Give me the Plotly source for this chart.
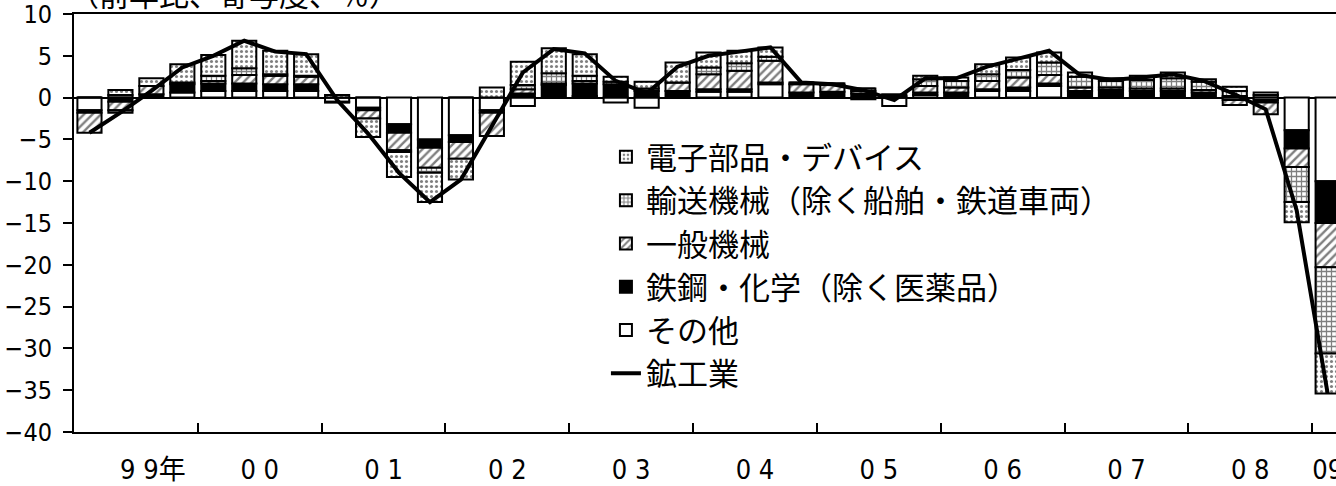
import plotly.graph_objects as go

# quarters 1999Q1 .. 2009Q1 (41 points), contributions in % points
quarters = [f"{y}Q{q}" for y in range(1999, 2010) for q in range(1, 5)][:41]

sonota = [-1.5, 0.3, 0.0, 0.6, 0.8, 0.8, 0.8, 0.8, -0.5, -1.2, -3.2, -5.0, -4.5, -1.5, -1.0, 0.0,
          0.2, -0.6, -1.2, 0.0, 0.7, 0.7, 1.6, 0.0, 0.0, -0.2, -1.0, 0.3, 0.0, 0.8, 0.8, 1.4,
          0.0, 0.0, 0.0, 0.0, 0.0, -0.3, -0.3, -3.9, -10.0]
tekko = [-0.3, -0.5, 0.4, 1.0, 0.9, 0.9, 0.8, 0.8, -0.1, -0.3, -1.0, -1.0, -0.8, -0.3, 0.5, 1.5,
         1.5, 1.6, 0.8, 0.8, 0.3, 0.3, 0.2, 0.6, 0.7, 0.5, 0.0, 0.3, 0.6, 0.2, 0.4, 0.3,
         0.8, 0.9, 0.8, 0.8, 0.6, 0.2, -0.3, -2.2, -5.0]
ippan = [-2.4, -1.0, 1.0, 0.2, 0.3, 1.0, 1.0, 0.9, 0.0, -1.0, -2.1, -2.4, -2.0, -2.8, 0.5, 0.2,
         0.3, 0.0, 0.3, 1.0, 1.8, 2.2, 2.6, 1.0, 0.8, 0.3, 0.0, 0.8, 0.6, 1.0, 1.2, 1.0,
         0.4, 0.3, 0.3, 0.3, 0.3, -0.6, -1.4, -2.2, -5.3]
yuso = [0.0, -0.3, 0.0, 0.0, 0.6, 0.8, 0.2, 0.1, 0.0, 0.0, -0.2, -0.6, 0.0, 0.0, 0.5, 1.2,
        0.6, 0.3, 0.0, 0.0, 0.8, 0.9, 0.5, 0.2, 0.2, 0.3, 0.2, 0.8, 0.8, 0.8, 0.9, 1.5,
        1.3, 0.8, 1.0, 1.2, 1.0, 0.6, 0.3, -4.2, -10.3]
denshi = [0.0, 0.6, 0.9, 2.2, 2.5, 3.3, 2.8, 2.6, 0.3, -2.2, -3.0, -3.5, -2.5, 1.2, 2.8, 3.0,
          2.6, 0.6, 0.8, 2.4, 1.8, 1.5, 1.1, 0.0, 0.0, 0.0, 0.2, 0.4, 0.4, 1.2, 1.5, 1.2,
          0.5, 0.3, 0.5, 0.7, 0.3, 0.5, 0.3, -2.4, -4.8]
kokogyo = [-4.2, -1.8, 0.8, 3.6, 5.0, 6.8, 5.5, 5.2, -0.3, -4.3, -9.0, -12.5, -9.8, -3.4, 3.0, 5.8,
           5.3, 2.0, 0.5, 3.7, 5.0, 5.5, 6.0, 1.8, 1.6, 0.9, -0.3, 2.3, 2.3, 3.7, 4.7, 5.6,
           2.7, 2.1, 2.4, 2.8, 2.0, 0.4, -1.4, -13.5, -35.4]

year_labels = ["9 9年", "0 0", "0 1", "0 2", "0 3", "0 4", "0 5", "0 6", "0 7", "0 8", "09"]

x = list(range(len(quarters)))
label_x = [4 * k + 1.5 for k in range(10)] + [40]
label_x[0] += 0.55  # "年" widens the first label
year_edges = [4 * k + 3.5 for k in range(10)]

JP = "Noto Sans CJK JP"
NUM = "Liberation Sans Narrow, DejaVu Sans Condensed, Noto Sans CJK JP"

bar_specs = [
    ("その他", sonota, dict(color="white"), 5),
    ("鉄鋼・化学（除く医薬品）", tekko, dict(color="black"), 4),
    ("一般機械", ippan, dict(color="white", pattern=dict(shape="/", fgcolor="black", bgcolor="white", size=6, solidity=0.4)), 3),
    ("輸送機械（除く船舶・鉄道車両）", yuso, dict(color="white", pattern=dict(shape="+", fgcolor="black", bgcolor="white", size=5, solidity=0.45)), 2),
    ("電子部品・デバイス", denshi, dict(color="white", pattern=dict(shape=".", fgcolor="black", bgcolor="white", size=5, solidity=0.3)), 1),
]

fig = go.Figure()
for name, vals, marker, rank in bar_specs:
    fig.add_trace(go.Bar(
        x=x, y=vals, name=name, width=0.78,
        marker=dict(**marker, line=dict(color="black", width=2)),
        legendgroup=name, legendrank=rank,
        customdata=quarters, hovertemplate="%{customdata}: %{y}<extra>" + name + "</extra>",
    ))

fig.add_trace(go.Scatter(
    x=x, y=kokogyo, name="鉱工業", mode="lines",
    line=dict(color="black", width=4),
    legendgroup="鉱工業", legendrank=6,
    customdata=quarters, hovertemplate="%{customdata}: %{y}<extra>鉱工業</extra>",
))

fig.update_layout(
    barmode="relative",
    width=1336, height=486,
    margin=dict(l=74, r=0, t=14, b=54, autoexpand=False),
    paper_bgcolor="white", plot_bgcolor="white",
    font=dict(family=JP, color="black"),
    legend=dict(
        x=0.4215, y=0.722, xanchor="left", yanchor="top",
        font=dict(family=JP, size=31, color="black"),
        bgcolor="rgba(0,0,0,0)", tracegroupgap=0,
    ),
    annotations=[dict(
        text="（前年比、寄与度、％）", xref="paper", yref="paper",
        x=-0.0055, y=1, xanchor="left", yanchor="bottom", yshift=-3, showarrow=False,
        font=dict(family=JP, size=30, color="black"),
    )],
)

fig.update_xaxes(
    range=[-0.5, 40.27], showgrid=False, zeroline=False, automargin=False,
    showline=True, linecolor="black", linewidth=2, mirror=True,
    tickmode="array", tickvals=label_x, ticktext=year_labels, ticks="",
    tickfont=dict(family=NUM, size=27, color="black"), ticklabelstandoff=13,
    ticklabeloverflow="allow",
    minor=dict(tickmode="array", tickvals=year_edges, ticks="inside",
               ticklen=9, tickwidth=2, tickcolor="black", showgrid=False),
)
fig.update_yaxes(
    range=[-40, 10], tickmode="array", tickvals=list(range(-40, 11, 5)),
    ticks="outside", ticklen=9, tickwidth=2, tickcolor="black", automargin=False,
    showline=True, linecolor="black", linewidth=2, showgrid=False,
    zeroline=True, zerolinecolor="black", zerolinewidth=2,
    tickfont=dict(family=NUM, size=25, color="black"), ticklabelstandoff=6,
    ticklabeloverflow="allow",
)

# the page body has a default 8px margin; drop it so the figure sits at the corner
fig.write_html("out.html", config={"displayModeBar": False},
               post_script="document.body.style.margin='0';")
